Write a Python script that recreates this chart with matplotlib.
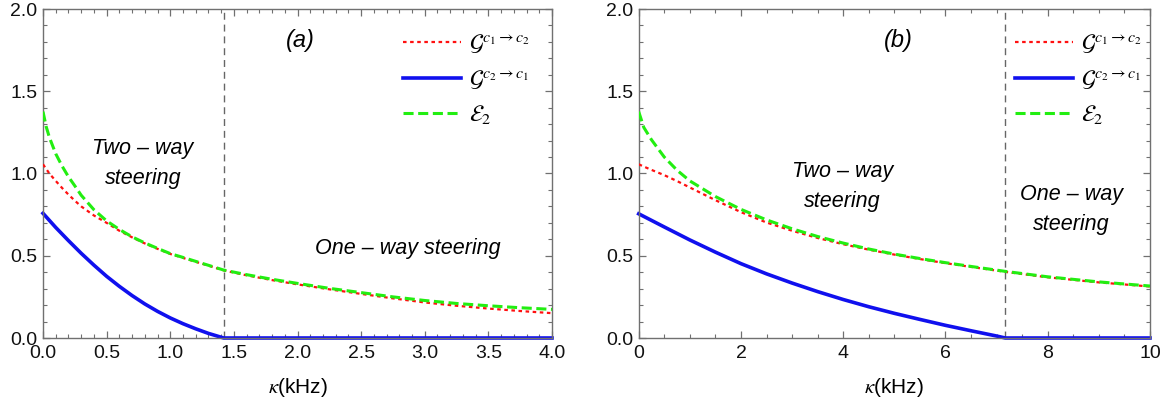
import matplotlib
matplotlib.use('Agg')
import matplotlib.pyplot as plt
from matplotlib.ticker import MultipleLocator, FormatStrFormatter

# ---------------- data: panel (a) ----------------
a_x = [0, 0.025, 0.05, 0.1, 0.15, 0.2, 0.25, 0.3, 0.4, 0.5, 0.6, 0.7, 0.8, 0.9,
       1.0, 1.1, 1.2, 1.3, 1.42, 1.6, 1.8, 2.0, 2.25, 2.5, 2.75, 3.0, 3.25, 3.5,
       3.75, 4.0]
a_g12 = [1.056, 1.028, 1.0, 0.955, 0.912, 0.872, 0.835, 0.80, 0.745, 0.70, 0.652,
         0.612, 0.575, 0.542, 0.511, 0.487, 0.463, 0.44, 0.411, 0.381, 0.352,
         0.326, 0.296, 0.268, 0.241, 0.216, 0.196, 0.179, 0.164, 0.151]
a_e2 = [1.376, 1.285, 1.22, 1.12, 1.045, 0.98, 0.925, 0.868, 0.78, 0.712, 0.66,
        0.615, 0.578, 0.545, 0.513, 0.49, 0.466, 0.442, 0.413, 0.385, 0.357,
        0.332, 0.302, 0.276, 0.25, 0.228, 0.21, 0.196, 0.184, 0.174]
a_bx = [0, 0.1, 0.2, 0.3, 0.4, 0.5, 0.6, 0.7, 0.8, 0.9, 1.0, 1.1, 1.2, 1.3, 1.42, 4.0]
a_g21 = [0.758, 0.672, 0.592, 0.515, 0.443, 0.375, 0.314, 0.258, 0.207, 0.162,
         0.122, 0.087, 0.056, 0.028, 0.0, 0.0]
a_boundary = 1.42

# ---------------- data: panel (b) ----------------
b_x = [0, 0.1, 0.25, 0.5, 0.75, 1.0, 1.5, 2.0, 2.5, 3.0, 3.5, 4.0, 4.5, 5.0, 5.5,
       6.0, 6.5, 7.17, 8.0, 9.0, 10.0]
b_g12 = [1.056, 1.042, 1.022, 0.99, 0.954, 0.915, 0.838, 0.765, 0.702, 0.652,
         0.608, 0.57, 0.537, 0.507, 0.48, 0.455, 0.432, 0.402, 0.369, 0.338, 0.313]
b_e2 = [1.376, 1.28, 1.205, 1.10, 1.02, 0.955, 0.86, 0.782, 0.718, 0.664,
        0.617, 0.577, 0.541, 0.51, 0.483, 0.458, 0.435, 0.405, 0.372, 0.341, 0.316]
b_bx = [0, 0.5, 1.0, 1.5, 2.0, 2.5, 3.0, 3.5, 4.0, 4.5, 5.0, 5.5, 6.0, 6.5, 7.0, 7.17, 10.0]
b_g21 = [0.755, 0.675, 0.596, 0.522, 0.452, 0.39, 0.334, 0.282, 0.234, 0.19,
         0.15, 0.113, 0.077, 0.044, 0.012, 0.0, 0.0]
b_boundary = 7.17

labels = [r'$\mathcal{G}^{c_1\rightarrow c_2}$',
          r'$\mathcal{G}^{c_2\rightarrow c_1}$',
          r'$\mathcal{E}_2$']
xlabel = r'$\kappa$(kHz)'

plt.rcParams['font.family'] = ['Liberation Sans', 'DejaVu Sans']
plt.rcParams['mathtext.fontset'] = 'stix'

fig = plt.figure(figsize=(11.72, 4.15), dpi=100)
W, H = 1172.0, 415.0
axA = fig.add_axes([43 / W, 1 - 338 / H, (552 - 43) / W, (338 - 9) / H])
axB = fig.add_axes([638.7 / W, 1 - 338 / H, (1150 - 638.7) / W, (338 - 9) / H])

spine_col = '#707070'


def style(ax, xmax, xmajor, xminor, fmt):
    ax.set_xlim(0, xmax)
    ax.set_ylim(0, 2.0)
    ax.xaxis.set_major_locator(MultipleLocator(xmajor))
    ax.xaxis.set_minor_locator(MultipleLocator(xminor))
    ax.yaxis.set_major_locator(MultipleLocator(0.5))
    ax.yaxis.set_minor_locator(MultipleLocator(0.1))
    ax.xaxis.set_major_formatter(FormatStrFormatter(fmt))
    ax.yaxis.set_major_formatter(FormatStrFormatter('%.1f'))
    ax.tick_params(which='both', direction='in', top=True, right=True,
                   color=spine_col, labelsize=14, labelcolor='#111111')
    ax.tick_params(which='major', length=5, width=0.9)
    ax.tick_params(which='minor', length=3, width=0.8)
    ax.tick_params(axis='x', pad=5)
    ax.tick_params(axis='y', pad=4)
    for s in ax.spines.values():
        s.set_color(spine_col)
        s.set_linewidth(1.0)
    ax.set_xlabel(xlabel, fontsize=15)
    ax.xaxis.set_label_coords(0.5, -0.115)


def draw(ax, x, g12, e2, bx, g21, boundary):
    ax.axvline(boundary, color='#666666', lw=1.0, ls=(0, (5, 3.5)), zorder=1)
    l1, = ax.plot(x, g12, color='#ff1010', lw=1.6, ls=(0, (1.6, 1.6)), zorder=3)
    l2, = ax.plot(bx, g21, color='#1010ee', lw=2.6, zorder=2, clip_on=False)
    l3, = ax.plot(x, e2, color='#22ee11', lw=2.2, ls=(0, (3.3, 1.5)), zorder=4)
    return [l1, l2, l3]


hA = draw(axA, a_x, a_g12, a_e2, a_bx, a_g21, a_boundary)
hB = draw(axB, b_x, b_g12, b_e2, b_bx, b_g21, b_boundary)

style(axA, 4.0, 0.5, 0.1, '%.1f')
style(axB, 10.0, 2, 0.5, '%d')

for ax, hs, lx in ((axA, hA, 0.707), (axB, hB, 0.736)):
    ax.legend(hs, labels, loc='upper left', bbox_to_anchor=(lx, 0.93),
              frameon=False, fontsize=16.5, handlelength=2.55, handletextpad=0.35,
              labelspacing=0.55, borderpad=0, borderaxespad=0)

tk = dict(fontsize=15.5, style='italic', ha='center', va='center', color='black')
axA.text(0.786, 1.06, 'Two – way\nsteering', linespacing=1.55, **tk)
axA.text(2.866, 0.547, 'One – way steering', **tk)
axA.text(2.02, 1.81, '(a)', fontsize=17, style='italic', ha='center', va='center')
axB.text(3.98, 0.92, 'Two – way\nsteering', linespacing=1.55, **tk)
axB.text(8.455, 0.78, 'One – way\nsteering', linespacing=1.55, **tk)
axB.text(5.07, 1.81, '(b)', fontsize=17, style='italic', ha='center', va='center')

fig.savefig('out.png', dpi=100)
